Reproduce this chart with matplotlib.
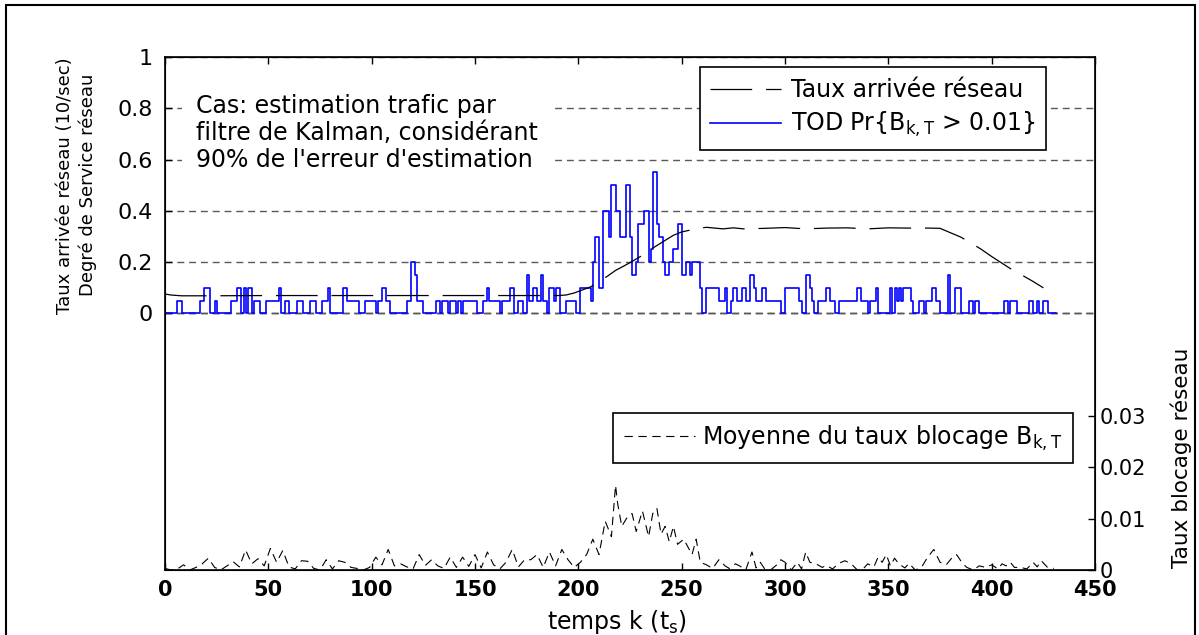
import matplotlib
matplotlib.use('Agg')
import matplotlib.pyplot as plt
from matplotlib.patches import Rectangle

plt.rcParams['font.family'] = 'DejaVu Sans'
plt.rcParams['lines.scale_dashes'] = False
plt.rcParams['mathtext.default'] = 'regular'

# TOD Pr{B > 0.01}: change points (k, value), step series
tod_k = [0, 6, 8, 17, 19, 22, 24, 25, 32, 35, 37, 38, 39, 40, 42, 43, 44, 46, 49, 55,
         56, 58, 60, 64, 67, 70, 73, 76, 79, 80, 86, 88, 94, 97, 102, 103, 105, 107, 109, 117,
         119, 121, 122, 125, 131, 133, 134, 137, 138, 141, 142, 143, 144, 146, 151, 154, 156, 157, 162, 163,
         167, 169, 171, 173, 175, 176, 178, 180, 182, 183, 185, 186, 188, 189, 191, 194, 199, 201, 206, 207,
         208, 210, 212, 215, 216, 218, 220, 223, 225, 226, 228, 229, 232, 234, 235, 236, 238, 239, 241, 242,
         244, 246, 248, 250, 252, 254, 255, 259, 260, 262, 268, 271, 272, 274, 275, 277, 279, 281, 283, 285,
         286, 289, 291, 298, 300, 307, 308, 310, 312, 313, 314, 316, 320, 322, 324, 326, 335, 337, 340, 341,
         344, 345, 351, 352, 353, 354, 355, 356, 357, 361, 362, 365, 367, 368, 371, 373, 375, 379, 380, 382,
         385, 389, 391, 392, 394, 406, 408, 409, 412, 418, 420, 422, 423, 425, 427, 431]
tod_v = [0, 0.05, 0, 0.05, 0.1, 0, 0.05, 0, 0.05, 0.1, 0, 0.1, 0, 0.1, 0, 0.05, 0.05, 0, 0.05, 0.1,
         0, 0.05, 0, 0.05, 0, 0.05, 0, 0.05, 0.1, 0, 0.1, 0.05, 0, 0.05, 0, 0.05, 0.1, 0.05, 0, 0.05,
         0.2, 0.15, 0.05, 0, 0.05, 0, 0.05, 0, 0.05, 0, 0.05, 0, 0.05, 0.05, 0, 0.05, 0.1, 0.05, 0, 0.05,
         0.1, 0, 0.05, 0, 0.15, 0.05, 0.1, 0.05, 0.15, 0.05, 0, 0.1, 0.05, 0.1, 0, 0.05, 0, 0.1, 0.05, 0.2,
         0.3, 0.1, 0.4, 0.3, 0.5, 0.4, 0.3, 0.5, 0.3, 0.15, 0.2, 0.35, 0.4, 0.2, 0.25, 0.55, 0.35, 0.3, 0.2, 0.15,
         0.2, 0.25, 0.35, 0.15, 0.2, 0.15, 0.2, 0.1, 0, 0.1, 0.05, 0.1, 0, 0.05, 0.1, 0.05, 0.1, 0.05, 0.15, 0.1,
         0.05, 0.1, 0.05, 0, 0.1, 0.05, 0, 0.15, 0.1, 0.05, 0, 0.05, 0.1, 0.05, 0, 0.05, 0.1, 0.05, 0, 0.05,
         0.1, 0, 0.1, 0, 0.1, 0.05, 0.1, 0.05, 0.1, 0.05, 0, 0.05, 0, 0.05, 0.1, 0.05, 0, 0.15, 0, 0.1,
         0, 0.05, 0, 0.05, 0, 0.05, 0, 0.05, 0, 0.05, 0, 0.05, 0, 0.05, 0, 0]

# Taux arrivee reseau
arr_k = [0, 3, 8, 20, 50, 100, 150, 190, 194, 198, 202, 206, 210, 214, 218, 222, 226, 230, 234, 238,
         242, 246, 250, 254, 258, 262, 266, 270, 275, 280, 290, 300, 310, 320, 330, 340, 350, 360, 370, 375,
         380, 385, 390, 395, 400, 405, 410, 415, 420, 425]
arr_v = [0.076, 0.072, 0.069, 0.069, 0.07, 0.07, 0.07, 0.07, 0.072, 0.08, 0.092, 0.104, 0.125, 0.145, 0.168, 0.185, 0.203, 0.222, 0.245, 0.265,
         0.285, 0.305, 0.318, 0.325, 0.332, 0.336, 0.333, 0.33, 0.334, 0.33, 0.332, 0.335, 0.33, 0.333, 0.334, 0.33, 0.334, 0.333, 0.333, 0.332,
         0.315, 0.298, 0.275, 0.25, 0.222, 0.196, 0.17, 0.148, 0.125, 0.1]

# Moyenne du taux blocage (x1e-3)
blk_k = [0, 3, 6, 9, 12, 15, 18, 21, 24, 27, 30, 33, 36, 39, 42, 45, 48, 51, 54, 57,
         60, 63, 66, 69, 72, 75, 78, 81, 84, 87, 90, 93, 96, 99, 102, 105, 108, 111, 114, 117,
         120, 123, 126, 129, 132, 135, 138, 141, 144, 147, 150, 153, 156, 159, 162, 165, 168, 171, 174, 177,
         180, 183, 186, 189, 192, 195, 198, 201, 204, 207, 210, 213, 216, 218, 219, 221, 224, 226, 228, 231,
         234, 236, 238, 240, 242, 244, 246, 248, 251, 253, 255, 257, 259, 262, 265, 268, 271, 273, 276, 278,
         281, 284, 286, 288, 290, 293, 296, 298, 300, 303, 306, 308, 310, 312, 315, 318, 320, 323, 326, 329,
         332, 335, 338, 340, 343, 345, 347, 349, 351, 353, 355, 358, 360, 363, 366, 369, 372, 375, 378, 381,
         383, 386, 388, 391, 394, 397, 400, 403, 405, 407, 409, 411, 414, 417, 420, 422, 424, 427, 430]
blk_v = [0.3, 0.0, 0.2, 1.0, 0.0, 0.5, 1.2, 2.3, 0.5, 0.0, 0.8, 1.6, 0.6, 3.9, 1.2, 2.2, 0.8, 4.2, 1.5, 3.8,
         0.6, 0.2, 1.8, 1.7, 0.3, 0.0, 2.0, 0.2, 1.8, 1.5, 0.5, 0.3, 0.0, 0.5, 2.5, 1.0, 4.0, 0.8, 1.2, 0.6,
         0.2, 3.0, 0.9, 2.0, 0.8, 0.3, 2.5, 0.5, 2.5, 0.7, 3.0, 0.4, 3.5, 1.0, 0.2, 1.5, 4.0, 0.6, 2.0, 2.0,
         3.0, 0.5, 3.5, 0.8, 4.0, 2.0, 0.5, 1.5, 3.0, 6.0, 3.0, 9.5, 6.5, 16.5, 13.0, 8.5, 10.5, 11.0, 7.5, 11.5,
         6.5, 11.0, 12.0, 7.0, 8.5, 5.5, 8.5, 5.0, 6.0, 4.5, 3.0, 6.0, 1.5, 1.0, 0.3, 2.0, 0.8, 0.3, 1.2, 0.8,
         0.0, 3.5, 0.4, 1.5, 0.3, 0.0, 1.0, 2.0, 1.5, 0.0, 1.5, 0.2, 3.5, 1.5, 1.2, 0.5, 0.9, 0.2, 1.3, 1.8,
         1.2, 0.0, 0.3, 1.2, 0.6, 2.5, 1.5, 3.0, 0.8, 2.3, 1.2, 0.4, 1.3, 0.0, 0.5, 2.5, 4.0, 1.5, 1.0, 2.5,
         3.0, 1.2, 0.5, 0.0, 0.8, 0.5, 1.0, 0.2, 1.2, 0.8, 1.5, 0.5, 0.5, 0.2, 1.5, 0.6, 1.8, 0.5, 0.3]
blk_v = [v / 1000 for v in blk_v]

left_ticks = [0, 0.2, 0.4, 0.6, 0.8, 1]
left_labels = ['0', '0.2', '0.4', '0.6', '0.8', '1']
right_ticks = [0, 0.01, 0.02, 0.03]
right_labels = ['0', '0.01', '0.02', '0.03']
x_ticks = [0, 50, 100, 150, 200, 250, 300, 350, 400, 450]

fig = plt.figure(figsize=(11.99, 6.35), dpi=100)
ax = fig.add_axes([0.1376, 0.1024, 0.7757, 0.8078])

l_arr, = ax.plot(arr_k, arr_v, color='k', lw=0.9, linestyle=(0, (30, 10)), zorder=3)
l_tod, = ax.step(tod_k, tod_v, where='post', color='#0000ff', lw=1.2, zorder=2)

ax.set_xlim(0, 450)
ax.set_ylim(-1, 1)
ax.set_xticks(x_ticks)
ax.set_xticklabels([str(t) for t in x_ticks], fontsize=15, fontweight='bold')
ax.set_yticks(left_ticks)
ax.set_yticklabels(left_labels, fontsize=16)
ax.tick_params(direction='in', length=5, top=True, right=True, width=1)
ax.tick_params(axis='x', pad=7)
ax.tick_params(axis='y', pad=9)
ax.yaxis.grid(True, color='#5a5a5a', linestyle=(0, (5, 3.5)), lw=1)
ax.axhline(0, color='k', lw=1, linestyle=(0, (5, 3.5)), zorder=1)
for s in ax.spines.values():
    s.set_linewidth(1.2)

ax.text(15, 0.855, "Cas: estimation trafic par\nfiltre de Kalman, considérant\n90% de l'erreur d'estimation",
        fontsize=17, va='top', ha='left', linespacing=1.15,
        bbox=dict(facecolor='white', edgecolor='none', pad=10))

ax.set_xlabel('temps k (t$_s$)', fontsize=17)
ax.xaxis.set_label_coords(0.486, -0.074)
ax.set_ylabel('Taux arrivée réseau (10/sec)\nDegré de Service réseau', fontsize=13, linespacing=1.3)
ax.yaxis.set_label_coords(-0.073, 0.75)

leg1 = ax.legend([l_arr, l_tod], ['Taux arrivée réseau', 'TOD Pr{B$_{k,T}$ > 0.01}'],
                 loc='upper right', bbox_to_anchor=(0.947, 0.98), fontsize=17, frameon=True,
                 fancybox=False, edgecolor='k', framealpha=1, handlelength=3,
                 borderpad=0.45, labelspacing=0.35, borderaxespad=0, handletextpad=0.4)
leg1.get_frame().set_linewidth(1.2)

ax2 = ax.twinx()
l_blk, = ax2.plot(blk_k, blk_v, color='k', lw=0.8, linestyle=(0, (6, 4)))
ax2.set_ylim(0, 0.1)
ax2.set_yticks(right_ticks)
ax2.set_yticklabels(right_labels, fontsize=15)
ax2.tick_params(direction='in', length=5, width=1, pad=3)
ax2.set_ylabel('Taux blocage réseau', fontsize=15.5)
ax2.yaxis.set_label_coords(1.081, 0.218)

leg2 = ax2.legend([l_blk], ['Moyenne du taux blocage B$_{k,T}$'],
                  loc='upper right', bbox_to_anchor=(0.976, 0.306), fontsize=17, frameon=True,
                  fancybox=False, edgecolor='k', framealpha=1, handlelength=3.0,
                  borderpad=0.45, borderaxespad=0, handletextpad=0.3)
leg2.get_frame().set_linewidth(1.2)

fig.patches.append(Rectangle((6 / 1199, -0.05), 1189 / 1199, 1.05 - 5 / 635,
                             transform=fig.transFigure, fill=False, edgecolor='k', lw=1.5))

fig.savefig('out.png', dpi=100)
